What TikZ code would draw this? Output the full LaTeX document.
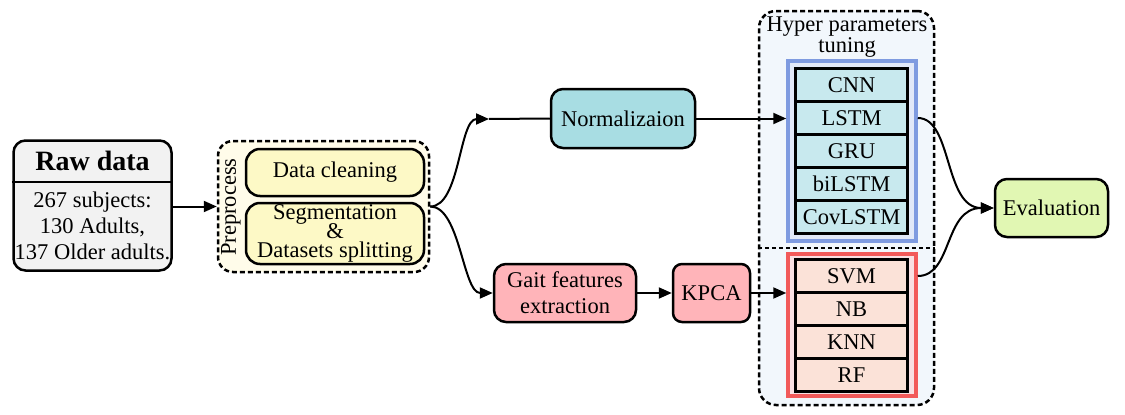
\documentclass[tikz,border=0pt]{standalone}
\usepackage{fontspec}
\setmainfont{Liberation Serif}
\usetikzlibrary{arrows.meta}

\newlength{\du}
\setlength{\du}{1pt}

\definecolor{rawfill}{RGB}{242,242,242}
\definecolor{prefill}{RGB}{255,252,234}
\definecolor{preboxfill}{RGB}{253,249,198}
\definecolor{normfill}{RGB}{168,221,227}
\definecolor{gaitfill}{RGB}{255,180,185}
\definecolor{hyperfill}{RGB}{242,247,252}
\definecolor{dlframecolor}{RGB}{127,155,224}
\definecolor{dlinnerfill}{RGB}{226,233,248}
\definecolor{dlcellfill}{RGB}{200,233,238}
\definecolor{mlframecolor}{RGB}{242,90,90}
\definecolor{mlinnerfill}{RGB}{249,224,227}
\definecolor{mlcellfill}{RGB}{251,226,216}
\definecolor{evalfill}{RGB}{225,247,179}

\tikzset{
  txt/.style={font=\fontsize{22.5}{26}\selectfont},
  box/.style={draw,line width=2.5\du,rounded corners=12\du,align=center,inner sep=0pt,txt},
  dashbox/.style={draw,line width=2.5\du,dash pattern=on 5\du off 3\du,rounded corners=15\du,inner sep=0pt},
  cell/.style={draw,line width=2.5\du,minimum width=112\du,minimum height=33\du,inner sep=0pt,txt},
  frame/.style={line width=3.5\du,minimum width=128\du,inner sep=0pt},
  link/.style={line width=2\du,-{Triangle[length=13pt,width=11pt]}},
  plainlink/.style={line width=2\du}
}

\begin{document}
\begin{tikzpicture}[x=\du,y=-\du]
\useasboundingbox (0,0) rectangle (1125,415);

% raw data
\node[box,fill=rawfill,minimum width=158\du,minimum height=130\du] (raw) at (92.5,205.5) {};
\node[font=\fontsize{28}{30}\selectfont\bfseries,inner sep=0pt] (rawtitle) at (92.5,161) {Raw data};
\draw[line width=2.5\du] (raw.west |- 0,182) -- (raw.east |- 0,182);
\node[txt,align=center,inner sep=0pt] (rawtext) at (92.5,226) {267 subjects:\\130 Adults,\\137 Older adults.};

% preprocess
\node[dashbox,fill=prefill,minimum width=211\du,minimum height=131\du] (pre) at (323.5,206.5) {};
\node[txt,rotate=90,inner sep=0pt] (prelabel) at (231,207) {Preprocess};
\node[box,fill=preboxfill,rounded corners=14\du,minimum width=178\du,minimum height=47\du] (clean) at (335,172.5) {Data cleaning};
\node[box,fill=preboxfill,rounded corners=14\du,minimum width=178\du,minimum height=61\du] (seg) at (335,233.5) {Segmentation\\[-7pt]\&\\[-7pt]Datasets splitting};

% two branches
\node[box,fill=normfill,minimum width=144\du,minimum height=59\du] (norm) at (623,118.5) {Normalizaion};
\node[box,fill=gaitfill,minimum width=142\du,minimum height=58\du] (gait) at (565,293) {Gait features\\extraction};
\node[box,fill=gaitfill,rounded corners=9\du,minimum width=77\du,minimum height=58\du] (kpca) at (711.5,293) {KPCA};

% hyper parameters tuning
\node[dashbox,fill=hyperfill,rounded corners=17\du,minimum width=175\du,minimum height=394\du] (hyper) at (846.5,208) {};
\node[txt,align=center,inner sep=0pt] (hypertitle) at (847,37) {Hyper parameters\\[-5pt]tuning};
\draw[line width=1.6\du,dash pattern=on 4\du off 3\du] (hyper.west |- 0,248) -- (hyper.east |- 0,248);

\node[frame,draw=dlframecolor,fill=dlinnerfill,minimum height=180\du] (dl) at (852,151) {};
\foreach \name [count=\i] in {CNN,LSTM,GRU,biLSTM,CovLSTM}
  \node[cell,fill=dlcellfill] (dl\i) at (851.5,{52+33*\i}) {\name};

\node[frame,draw=mlframecolor,fill=mlinnerfill,minimum height=142\du] (ml) at (852,325) {};
\foreach \name [count=\i] in {SVM,NB,KNN,RF}
  \node[cell,fill=mlcellfill] (ml\i) at (851.5,{243+33*\i}) {\name};

\node[box,fill=evalfill,minimum width=113\du,minimum height=58\du] (eval) at (1051.5,208) {Evaluation};

% connectors
\coordinate (normin) at (489,119);
\draw[link] (raw.east |- pre.west) -- (pre.west);
\draw[link] (pre.east) .. controls +(30,0) and +(-30,0) .. (normin);
\draw[plainlink] (normin) -- (norm.west);
\draw[link] (pre.east) .. controls +(30,0) and +(-30,0) .. (gait.west);
\draw[link] (gait) -- (kpca);
\draw[link] (norm.east) -- (norm.east -| dl.west);
\draw[link] (kpca.east) -- (kpca.east -| ml.west);
\draw[link] (dl2.east -| dl.east) .. controls +(35,0) and +(-50,0) .. (eval.west);
\draw[link] (ml1.east -| ml.east) .. controls +(35,0) and +(-50,0) .. (eval.west);
\end{tikzpicture}
\end{document}
